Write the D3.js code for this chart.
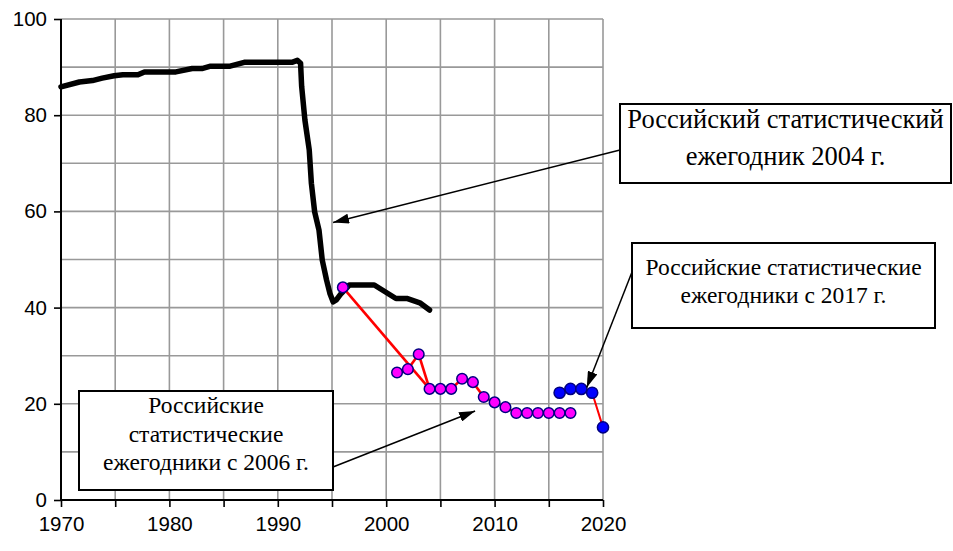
<!DOCTYPE html>
<html>
<head>
<meta charset="utf-8">
<script src="https://cdn.jsdelivr.net/npm/d3@7"></script>
<style>
  html, body { margin: 0; padding: 0; background: #fff; }
  svg { display: block; }
</style>
</head>
<body>
<svg id="chart" width="953" height="551"></svg>
<script>
// Yearbook 2004 series (continuous curve)
const yb2004Years = [1970, 1971.7, 1972.9, 1973.8, 1974.9, 1975.7, 1977.1, 1977.7, 1980.6, 1982.1,
  1983.0, 1983.8, 1985.6, 1986.9, 1991.3, 1991.8, 1992.1, 1992.2, 1992.5, 1992.9, 1993.1, 1993.4,
  1993.8, 1994.1, 1994.5, 1994.8, 1995.1, 1995.4, 1995.8, 1996.6, 1998.9, 2000.9, 2001.9, 2003.1, 2004.0];
const yb2004Values = [85.9, 86.9, 87.2, 87.7, 88.2, 88.4, 88.4, 89.0, 89.0, 89.7,
  89.7, 90.2, 90.2, 91.0, 91.0, 91.4, 90.8, 86.0, 79.0, 72.8, 65.8, 59.9,
  56.1, 49.9, 45.7, 43.0, 41.2, 41.6, 42.8, 44.7, 44.7, 41.9, 41.9, 41.0, 39.5];

// Yearbooks from 2006 (points)
const yb2006Years = [1996, 2001, 2002, 2003, 2004, 2005, 2006, 2007, 2008, 2009, 2010, 2011,
  2012, 2013, 2014, 2015, 2016, 2017];
const yb2006Values = [44.2, 26.5, 27.2, 30.3, 23.1, 23.1, 23.1, 25.2, 24.5, 21.4, 20.3, 19.3,
  18.1, 18.1, 18.1, 18.1, 18.1, 18.1];
// connecting segments for the 2006 series (pairs of years)
const yb2006Links = [[1996, 2004], [2001, 2002], [2002, 2003], [2003, 2004], [2004, 2005],
  [2005, 2006], [2006, 2007], [2007, 2008], [2008, 2009], [2009, 2010], [2010, 2011],
  [2011, 2012], [2012, 2013], [2013, 2014], [2014, 2015], [2015, 2016], [2016, 2017]];

// Yearbooks from 2017 (points)
const yb2017Years = [2016, 2017, 2018, 2019, 2020];
const yb2017Values = [22.3, 23.1, 23.1, 22.3, 15.1];

// Axis ticks
const xTicks = [1970, 1980, 1990, 2000, 2010, 2020];
const xMinorTicks = [1970, 1975, 1980, 1985, 1990, 1995, 2000, 2005, 2010, 2015, 2020];
const yTicks = [0, 20, 40, 60, 80, 100];
const yGrid = [10, 20, 30, 40, 50, 60, 70, 80, 90, 100];

// Callout texts
const callout2004 = ["Российский статистический", "ежегодник 2004 г."];
const callout2017 = ["Российские статистические", "ежегодники с 2017 г."];
const callout2006 = ["Российские", "статистические", "ежегодники с 2006 г."];

const svg = d3.select("#chart");
const x = d3.scaleLinear().domain([1970, 2020]).range([61, 603]);
const y = d3.scaleLinear().domain([0, 100]).range([500, 19]);

// grid
const grid = svg.append("g").attr("stroke", "#999").attr("stroke-width", 1.6);
grid.selectAll("line.v").data(xMinorTicks.filter(d => d > 1970)).join("line")
  .attr("x1", d => x(d)).attr("x2", d => x(d)).attr("y1", y(0)).attr("y2", y(100));
grid.selectAll("line.h").data(yGrid).join("line")
  .attr("x1", x(1970)).attr("x2", x(2020)).attr("y1", d => y(d)).attr("y2", d => y(d));

// axes
const xAxis = d3.axisBottom(x).tickValues(xMinorTicks).tickSize(7)
  .tickFormat(d => xTicks.includes(d) ? String(d) : "");
const yAxis = d3.axisLeft(y).tickValues(yTicks).tickSize(7).tickFormat(d => String(d));

const gx = svg.append("g").attr("transform", `translate(0,${y(0)})`).call(xAxis);
const gy = svg.append("g").attr("transform", `translate(${x(1970)},0)`).call(yAxis);
[gx, gy].forEach(g => {
  g.select(".domain").attr("stroke", "#000").attr("stroke-width", 2);
  g.selectAll(".tick line").attr("stroke", "#000").attr("stroke-width", 1.6);
  g.selectAll(".tick text").attr("fill", "#000")
    .attr("font-family", "'Liberation Sans', Arial, sans-serif").attr("font-size", 20.5);
});
gx.select(".domain").attr("d", `M${x(1970)},0H${x(2020)}`);
gy.select(".domain").attr("d", `M0,${y(0)}V${y(100)}`);
gx.selectAll(".tick text").attr("dy", "0.95em").attr("y", 12);
gy.selectAll(".tick text").attr("x", -14);

// yearbook 2004 curve
const line = d3.line().x(d => x(d[0])).y(d => y(d[1]));
svg.append("path")
  .datum(d3.zip(yb2004Years, yb2004Values))
  .attr("d", line)
  .attr("fill", "none").attr("stroke", "#000").attr("stroke-width", 5.5)
  .attr("stroke-linejoin", "round").attr("stroke-linecap", "round");

// 2006 series links and markers
const v2006 = new Map(d3.zip(yb2006Years, yb2006Values));
svg.append("g").selectAll("line").data(yb2006Links).join("line")
  .attr("x1", d => x(d[0])).attr("y1", d => y(v2006.get(d[0])))
  .attr("x2", d => x(d[1])).attr("y2", d => y(v2006.get(d[1])))
  .attr("stroke", "#ff0000").attr("stroke-width", 2.6);
svg.append("g").selectAll("circle").data(d3.zip(yb2006Years, yb2006Values)).join("circle")
  .attr("cx", d => x(d[0])).attr("cy", d => y(d[1])).attr("r", 5.3)
  .attr("fill", "#ff00ff").attr("stroke", "#000080").attr("stroke-width", 1.5);

// 2017 series
svg.append("path")
  .datum(d3.zip(yb2017Years, yb2017Values))
  .attr("d", line)
  .attr("fill", "none").attr("stroke", "#ff0000").attr("stroke-width", 2);
svg.append("g").selectAll("circle").data(d3.zip(yb2017Years, yb2017Values)).join("circle")
  .attr("cx", d => x(d[0])).attr("cy", d => y(d[1])).attr("r", 5.6)
  .attr("fill", "#0000ff").attr("stroke", "#000080").attr("stroke-width", 1.5);

// arrow marker
svg.append("defs").append("marker")
  .attr("id", "head").attr("viewBox", "0 0 16 10").attr("refX", 16).attr("refY", 5)
  .attr("markerWidth", 16).attr("markerHeight", 10).attr("markerUnits", "userSpaceOnUse")
  .attr("orient", "auto")
  .append("path").attr("d", "M0,0L16,5L0,10Z").attr("fill", "#000");

function callout(lines, box, fontSize, lineGap, firstBaseline, from, to) {
  const g = svg.append("g");
  g.append("line")
    .attr("x1", from[0]).attr("y1", from[1]).attr("x2", to[0]).attr("y2", to[1])
    .attr("stroke", "#000").attr("stroke-width", 1.5).attr("marker-end", "url(#head)");
  g.append("rect")
    .attr("x", box[0]).attr("y", box[1]).attr("width", box[2] - box[0]).attr("height", box[3] - box[1])
    .attr("fill", "#fff").attr("stroke", "#000").attr("stroke-width", 2);
  g.selectAll("text").data(lines).join("text")
    .attr("x", (box[0] + box[2]) / 2)
    .attr("y", (d, i) => firstBaseline + i * lineGap)
    .attr("text-anchor", "middle")
    .attr("font-family", "'Liberation Serif', 'Times New Roman', serif")
    .attr("font-size", fontSize).attr("fill", "#000")
    .text(d => d);
}

callout(callout2004, [620, 104, 951, 183], 26.5, 37, 128, [620, 150], [x(1995.1), y(57.7)]);
callout(callout2017, [632, 243, 935, 328], 23.5, 28, 275, [632, 272], [x(2018.5), y(23.4)]);
callout(callout2006, [79, 391, 333, 490], 23.5, 28.5, 413, [333, 467], [x(2008.2), y(18.5)]);
</script>
</body>
</html>
